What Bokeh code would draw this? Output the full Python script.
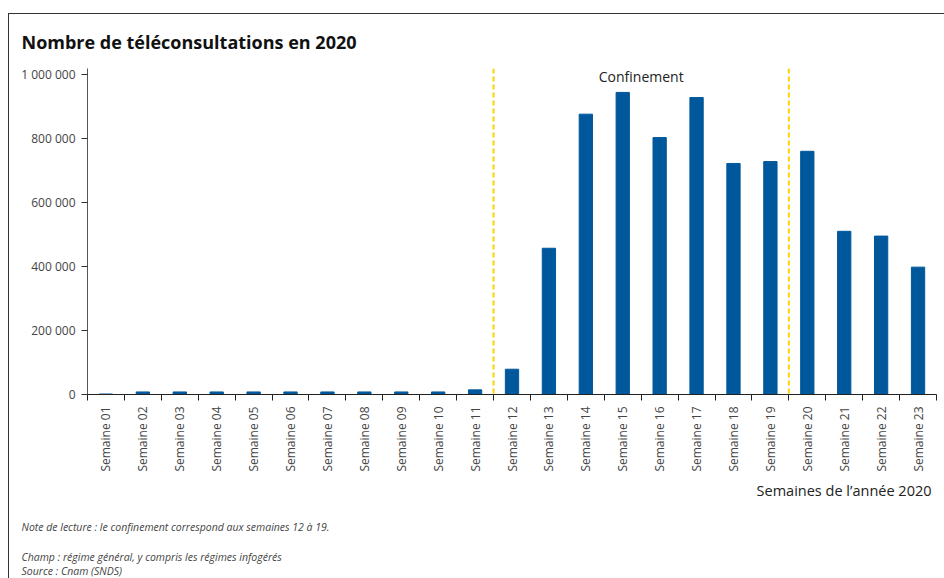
import math
from bokeh.plotting import figure
from bokeh.models import Range1d, FixedTicker, Span, Label, ColumnDataSource, Title
from bokeh.embed import file_html
from bokeh.resources import INLINE

# ---- data ----
weeks = [f"Semaine {i:02d}" for i in range(1, 24)]
teleconsultations = [1500, 8000, 8000, 8000, 8000, 8000, 8000, 8000, 8000, 8000, 14500,
                     79000, 457000, 876000, 944000, 803000, 928000, 722000, 728000,
                     760000, 510000, 495000, 398000]
y_ticks = [0, 200000, 400000, 600000, 800000, 1000000]
confinement_start_week = 12
confinement_end_week = 19
confinement_label_y = 993750

title_text = "Nombre de téléconsultations en 2020"
x_title = "Semaines de l\u2019année 2020"
confinement_text = "Confinement"
notes = ["Note de lecture : le confinement correspond aux semaines 12 à 19.",
         "Champ : régime général, y compris les régimes infogérés",
         "Source : Cnam (SNDS)"]

FONT = "Open Sans"
BAR = "#00589C"
GOLD = "#FFD200"

n = len(weeks)
centers = [i + 0.5 for i in range(n)]
src = ColumnDataSource(dict(x=centers, top=teleconsultations, week=weeks))

p = figure(width=936, height=565, output_backend="svg", toolbar_location=None,
           x_range=Range1d(0, n), y_range=Range1d(0, 1018750),
           min_border_left=78, min_border_right=9, min_border_top=54,
           min_border_bottom=185, margin=(13, 0, 0, 8),
           styles={"border-left": "1px solid #333", "border-top": "1px solid #333"})
p.outline_line_color = None
p.grid.visible = False
p.background_fill_color = "white"
p.border_fill_color = "white"

p.vbar(x="x", top="top", width=0.36, source=src, color=BAR)

# confinement markers between weeks
for loc in (confinement_start_week - 1, confinement_end_week):
    p.add_layout(Span(location=loc, dimension="height", line_color=GOLD,
                      line_width=2, line_dash="5 3"))

p.add_layout(Label(x=(confinement_start_week - 1 + confinement_end_week) / 2,
                   y=confinement_label_y, text=confinement_text,
                   text_align="center", text_baseline="middle",
                   text_font=FONT, text_font_size="14px", text_color="#222"))

# x axis: labels at centres, ticks at boundaries
xa = p.xaxis[0]
xa.ticker = FixedTicker(ticks=centers, minor_ticks=list(range(n + 1)))
xa.major_label_overrides = {c: w for c, w in zip(centers, weeks)}
xa.major_label_orientation = math.pi / 2
xa.major_tick_line_color = None
xa.minor_tick_line_color = "#222"
xa.minor_tick_out = 6
xa.minor_tick_in = 0
xa.axis_line_color = "#222"
xa.major_label_standoff = 6
xa.major_label_text_font = FONT
xa.major_label_text_font_size = "12px"
xa.major_label_text_color = "#444"

# y axis
ya = p.yaxis[0]
ya.ticker = FixedTicker(ticks=y_ticks, minor_ticks=[])
ya.major_label_overrides = {t: f"{t:,}".replace(",", " ") for t in y_ticks}
ya.major_tick_out = 6
ya.major_tick_in = 0
ya.major_tick_line_color = "#333"
ya.axis_line_color = "#555"
ya.major_label_standoff = 6
ya.major_label_text_font = FONT
ya.major_label_text_font_size = "12px"
ya.major_label_text_color = "#444"

# title
p.title.text = title_text
p.title.align = "left"
p.title.vertical_align = "middle"
p.title.offset = -66
p.title.standoff = 27
p.title.text_font = FONT
p.title.text_font_style = "bold"
p.title.text_font_size = "18px"
p.title.text_color = "#111"

# texts below the axis
p.add_layout(Title(text=x_title, align="right", offset=5, standoff=8,
                   text_font=FONT, text_font_style="normal", text_font_size="14.5px",
                   text_color="#222"), "below")
for txt, so in zip(notes, [28, 1, -5]):
    p.add_layout(Title(text=txt, align="left", offset=-66, standoff=so,
                       text_font=FONT, text_font_style="italic",
                       text_font_size="10.5px", text_color="#444"), "below")

open("out.html", "w").write(file_html(p, INLINE))
